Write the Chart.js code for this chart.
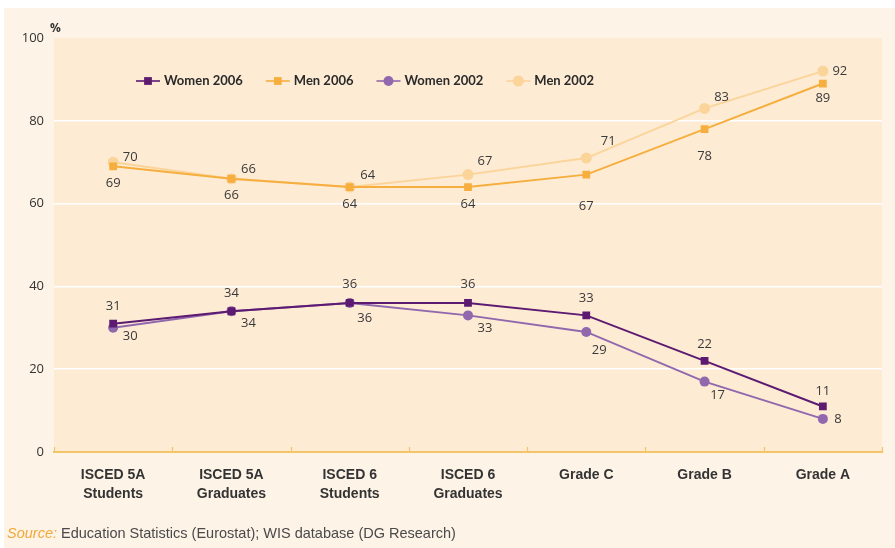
<!DOCTYPE html>
<html><head><meta charset="utf-8">
<script src="https://cdn.jsdelivr.net/npm/chart.js@4"></script>
<style>
html,body{margin:0;padding:0;background:#fff}
#wrap{position:relative;width:895px;height:548px;overflow:hidden}
canvas{display:block}
#pct{position:absolute;left:50px;top:19px;font:bold 12px 'Open Sans',sans-serif;color:#333}
#src{position:absolute;left:7px;top:525px;font:14.5px 'Liberation Sans Narrow','Liberation Sans',sans-serif;color:#4a4a4a;white-space:nowrap}
#src i{color:#f2a93b}
</style></head><body>
<div id="wrap">
<canvas id="c" width="895" height="548"></canvas>
<div id="pct">%</div>
<div id="src"><i>Source:</i> Education Statistics (Eurostat); WIS database (DG Research)</div>
</div>
<script>
const categories = [["ISCED 5A","Students"],["ISCED 5A","Graduates"],["ISCED 6","Students"],["ISCED 6","Graduates"],"Grade C","Grade B","Grade A"];
const seriesNames = ["Women 2006","Men 2006","Women 2002","Men 2002"];
const women2006 = [31,34,36,36,33,22,11];
const men2006   = [69,66,64,64,67,78,89];
const women2002 = [30,34,36,33,29,17,8];
const men2002   = [70,66,64,67,71,83,92];
const yTicks = [0,20,40,60,80,100];

// label offsets (style only)
const offW06 = [[0,-17],[0,-18],[0,-19],[0,-19],[0,-17],[0,-17],[0,-15]];
const offM06 = [[0,17],[0,17],[0,17],[0,17],[0,32],[0,27],[0,15]];
const offW02 = [[17,8],[17,12],[15,15],[17,13],[13,18],[13,14],[15,0]];
const offM02 = [[17,-5],[17,-9],[18,-12],[17,-13],[22,-17],[17,-11],[17,0]];

const bgPlugin = {
  id:'bg',
  beforeDraw(chart){
    const ctx=chart.ctx, a=chart.chartArea;
    ctx.save();
    ctx.fillStyle='#fff'; ctx.fillRect(0,0,chart.width,chart.height);
    ctx.fillStyle='#fdf3e7'; ctx.fillRect(4,8,chart.width-4,chart.height-8);
    ctx.fillStyle='#fdebd4'; ctx.fillRect(a.left,a.top,a.right-a.left,a.bottom-a.top);
    ctx.restore();
  },
  afterDraw(chart){
    const ctx=chart.ctx, xs=chart.scales.x, a=chart.chartArea;
    const n=categories.length, w=(xs.right-xs.left)/n;
    ctx.save(); ctx.strokeStyle='#f3c46a'; ctx.lineWidth=1.2;
    for(let i=0;i<=n;i++){const x=Math.round(xs.left+i*w)+0.5;ctx.beginPath();ctx.moveTo(x,a.bottom-5);ctx.lineTo(x,a.bottom);ctx.stroke();}
    ctx.restore();
  }
};

const labelPlugin = {
  id:'dlabels',
  afterDatasetsDraw(chart){
    const ctx=chart.ctx;
    ctx.save();
    ctx.font="13px 'Open Sans', sans-serif";
    ctx.fillStyle='#3a3a3a'; ctx.textAlign='center'; ctx.textBaseline='middle';
    chart.data.datasets.forEach((ds,di)=>{
      const meta=chart.getDatasetMeta(di);
      meta.data.forEach((pt,i)=>{
        const o=ds.labelOffsets[i];
        ctx.fillText(String(ds.data[i]), pt.x+o[0], pt.y+o[1]);
      });
    });
    ctx.restore();
  }
};

const legendPlugin = {
  id:'customLegend',
  afterDraw(chart){
    const ctx=chart.ctx;
    let x=136; const y=81;
    ctx.save();
    ctx.font="bold 13px Lato, sans-serif";
    ctx.textBaseline='middle'; ctx.textAlign='left';
    chart.data.datasets.forEach(ds=>{
      ctx.strokeStyle=ds.borderColor; ctx.lineWidth=1.6;
      ctx.beginPath(); ctx.moveTo(x,y); ctx.lineTo(x+24,y); ctx.stroke();
      ctx.fillStyle=ds.pointBackgroundColor;
      Chart.helpers.drawPoint(ctx,{pointStyle:ds.pointStyle,radius:ds.pointRadius,borderWidth:0,rotation:0},x+12,y);
      ctx.fillStyle='#2a2a2a';
      ctx.fillText(ds.label,x+28,y);
      x += 28 + ctx.measureText(ds.label).width + 23;
    });
    ctx.restore();
  }
};

function mk(label,data,color,style,r,offs){
  return {label,data,borderColor:color,backgroundColor:color,pointBackgroundColor:color,pointBorderColor:color,
    pointBorderWidth:0,pointStyle:style,pointRadius:r,pointHoverRadius:r,borderWidth:2,tension:0,labelOffsets:offs};
}

new Chart(document.getElementById('c'),{
  type:'line',
  data:{labels:categories,datasets:[
    mk(seriesNames[0],women2006,'#5c1a70','rect',5.5,offW06),
    mk(seriesNames[1],men2006,'#f6ae3e','rect',5.5,offM06),
    mk(seriesNames[2],women2002,'#9168ad','circle',5,offW02),
    mk(seriesNames[3],men2002,'#fbd49a','circle',5.5,offM02)
  ]},
  options:{
    responsive:false,animation:false,
    layout:{padding:{top:38,right:13,left:0,bottom:0}},
    plugins:{legend:{display:false},tooltip:{enabled:false}},
    scales:{
      x:{offset:true,grid:{display:false},border:{display:true,color:'#f3c46a',width:2},
        ticks:{autoSkip:false,maxRotation:0,padding:5,color:'#333',font:{family:"'Liberation Sans Narrow','Liberation Sans',sans-serif",weight:'bold',size:14,lineHeight:1.4}},
        afterFit(s){s.height=96;}},
      y:{min:0,max:100,afterBuildTicks(s){s.ticks=yTicks.map(v=>({value:v}));},
        grid:{drawTicks:false,lineWidth:1.5,color(c){const v=c.tick&&c.tick.value;return (v>0&&v<100)?'#ffffff':'rgba(0,0,0,0)';}},
        border:{display:false},
        ticks:{padding:10,color:'#333',font:{family:"'Open Sans',sans-serif",size:13}},
        afterFit(s){s.width=54;}}
    }
  },
  plugins:[bgPlugin,labelPlugin,legendPlugin]
});
</script>
</body></html>
